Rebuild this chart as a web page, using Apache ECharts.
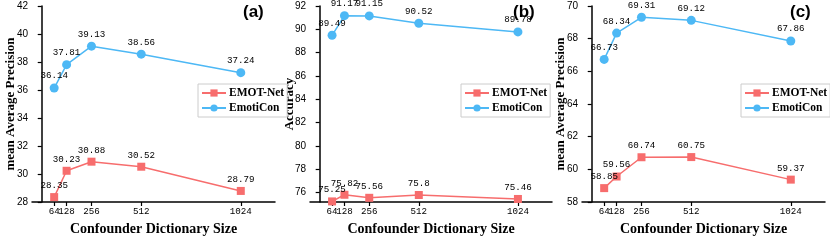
<!DOCTYPE html>
<html>
<head>
<meta charset="utf-8">
<script src="https://cdn.jsdelivr.net/npm/echarts@6/dist/echarts.min.js"></script>
<style>html,body{margin:0;padding:0;background:#fff;}#c{width:830px;height:241px;}</style>
</head>
<body>
<div id="c"></div>
<script>
const dictSizes = [64, 128, 256, 512, 1024];
const xTicksMain = [128, 256, 512, 1024];
const xTicksFirst = [64];
const seriesNames = ['EMOT-Net', 'EmotiCon'];
const panelLabels = ['(a)', '(b)', '(c)'];
const yTitles = ['mean Average Precision', 'Accuracy', 'mean Average Precision'];
const xTitle = 'Confounder Dictionary Size';

const emotNetA = [28.35, 30.23, 30.88, 30.52, 28.79];
const emotiConA = [36.14, 37.81, 39.13, 38.56, 37.24];
const emotNetB = [75.25, 75.82, 75.56, 75.8, 75.46];
const emotiConB = [89.49, 91.17, 91.15, 90.52, 89.78];
const emotNetC = [58.85, 59.56, 60.74, 60.75, 59.37];
const emotiConC = [66.73, 68.34, 69.31, 69.12, 67.86];

const yTicksA = [28, 30, 32, 34, 36, 38, 40, 42];
const yTicksB = [76, 78, 80, 82, 84, 86, 88, 90, 92];
const yTicksC = [58, 60, 62, 64, 66, 68, 70];

const panels = [
  {left: 32, width: 243, ymin: 28, ymax: 42, yTicks: yTicksA, red: emotNetA, blue: emotiConA, nameGap: 14.5, legendLeft: 198, labelLeft: 243},
  {left: 310, width: 242, ymin: 75.2, ymax: 92, yTicks: yTicksB, red: emotNetB, blue: emotiConB, nameGap: 13.5, legendLeft: 461, labelLeft: 513},
  {left: 582, width: 243, ymin: 58, ymax: 70, yTicks: yTicksC, red: emotNetC, blue: emotiConC, nameGap: 14.5, legendLeft: 741, labelLeft: 790}
];

const RED = '#F76D6D', BLUE = '#4DB8F5';
const serif = 'Liberation Serif';
const grid = [], xAxis = [], yAxis = [], series = [], legend = [], graphic = [];

const xLabelStyle = {color: '#000', fontSize: 9.2, fontFamily: 'Liberation Mono', margin: 5, formatter: (v) => String(v)};

panels.forEach((p, i) => {
  grid.push({left: p.left, top: 6, width: p.width, height: 196, containLabel: false});
  xAxis.push({
    type: 'value', gridIndex: i, min: -50, max: 1200, position: 'bottom',
    axisLine: {show: true, lineStyle: {color: '#000', width: 1.5}},
    axisTick: {show: true, customValues: xTicksMain, length: 4, inside: false, lineStyle: {color: '#000', width: 1.2}},
    axisLabel: Object.assign({customValues: xTicksMain}, xLabelStyle),
    splitLine: {show: false},
    name: xTitle, nameLocation: 'middle', nameGap: 20, nameMoveOverlap: false,
    nameTextStyle: {fontFamily: serif, fontWeight: 'bold', fontSize: 14, color: '#000'}
  });
  yAxis.push({
    type: 'value', gridIndex: i, min: p.ymin, max: p.ymax,
    axisLine: {show: true, lineStyle: {color: '#000', width: 1.5}},
    axisTick: {show: true, customValues: p.yTicks, length: 4, inside: false, lineStyle: {color: '#000', width: 1.2}},
    axisLabel: {customValues: p.yTicks, color: '#000', fontSize: 10, fontFamily: 'Liberation Sans', margin: 4},
    splitLine: {show: false},
    name: yTitles[i], nameLocation: 'middle', nameRotate: 90, nameGap: p.nameGap, nameMoveOverlap: false,
    nameTextStyle: {fontFamily: serif, fontWeight: 'bold', fontSize: 13, color: '#000'}
  });
  const mk = (name, vals, color, symbol, size) => ({
    name: name, type: 'line', xAxisIndex: i, yAxisIndex: i,
    data: dictSizes.map((x, k) => [x, vals[k]]),
    symbol: symbol, symbolSize: size, showAllSymbol: true,
    lineStyle: {color: color, width: 1.5},
    itemStyle: {color: color},
    label: {show: true, position: 'top', distance: 3, color: '#000', fontSize: 9.2, fontFamily: 'Liberation Mono',
            formatter: (d) => String(d.value[1])},
    labelLayout: {hideOverlap: false},
    emphasis: {disabled: true}, animation: false
  });
  series.push(mk(seriesNames[0], p.red, RED, 'rect', 8));
  series.push(mk(seriesNames[1], p.blue, BLUE, 'circle', 9));
  legend.push({
    data: seriesNames, orient: 'vertical', left: p.legendLeft, top: 84,
    borderColor: '#ccc', borderWidth: 1, borderRadius: 0, padding: [3, 3, 3, 3],
    itemGap: 3, itemWidth: 24, itemHeight: 9,
    textStyle: {fontFamily: serif, fontWeight: 'bold', fontSize: 11.5, color: '#000', padding: [0, 0, 0, -2]},
    selectedMode: false
  });
  graphic.push({
    type: 'text', left: p.labelLeft, top: 4,
    style: {text: panelLabels[i], font: 'bold 17px "Liberation Sans"', fill: '#000'}
  });
});

// secondary x axes carrying only the first tick (64), overlaid on the same bottom edge
panels.forEach((p, i) => {
  xAxis.push({
    type: 'value', gridIndex: i, min: -50, max: 1200, position: 'bottom', offset: 0,
    axisLine: {show: false},
    axisTick: {show: true, customValues: xTicksFirst, length: 4, inside: false, lineStyle: {color: '#000', width: 1.2}},
    axisLabel: Object.assign({customValues: xTicksFirst}, xLabelStyle),
    splitLine: {show: false}
  });
});

const chart = echarts.init(document.getElementById('c'), null, {renderer: 'canvas'});
chart.setOption({animation: false, backgroundColor: '#fff', grid, xAxis, yAxis, series, legend, graphic});
</script>
</body>
</html>
